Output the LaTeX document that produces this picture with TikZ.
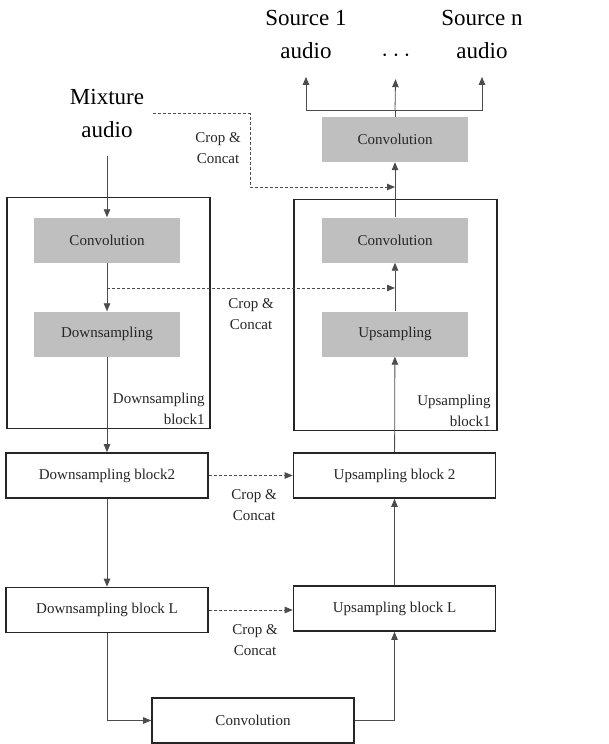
\documentclass[tikz,border=0pt]{standalone}
\usepackage{fontspec}
\setmainfont{Liberation Serif}
\usetikzlibrary{arrows.meta}
\tikzset{>={Triangle[width=6.5pt,length=8pt]}}

\begin{document}
\begin{tikzpicture}[x=1pt, y=-1pt,
  io/.style={align=center, inner xsep=9pt, inner ysep=18pt, font=\fontsize{23}{33}\selectfont},
  graybox/.style={fill=\GRAY, minimum width=146pt, minimum height=45pt, font=\fontsize{15}{21}\selectfont, text=black!85},
  stage/.style={draw=black!85, line width=1.7pt, minimum width=203pt, minimum height=231pt},
  block/.style={draw=black!85, line width=1.6pt, fill=white, minimum width=202pt, minimum height=45pt, font=\fontsize{15}{21}\selectfont, text=black!85},
  blklabel/.style={align=right, inner sep=0pt, font=\fontsize{15}{21}\selectfont, text=black!85},
  croplabel/.style={align=center, inner sep=0pt, font=\fontsize{15}{21}\selectfont, text=black!85},
  wire/.style={draw=black!70, line width=0.8pt},
  link/.style={wire, ->},
  cropline/.style={link, dash pattern=on 3pt off 2pt}]

\newcommand\GRAY{black!25}

\useasboundingbox (0,0) rectangle (608,744);

%% outputs
\node[io] (src1) at (306,34.5) {Source 1\\audio};
\node[io] (srcn) at (482,34.5) {Source n\\audio};
\node[io, anchor=base] (dots) at (396,61) {$\cdots$};
\node[graybox] (convo) at (395,139.5) {Convolution};

%% input
\node[io] (mix) at (107,113.5) {Mixture\\audio};

%% block 1
\node[stage] (blkd) at (108.5,313) {};
\node[stage] (blku) at (395.5,315) {};
\node[graybox] (convd) at (107,240) {Convolution};
\node[graybox] (downs) at (107,334) {Downsampling};
\node[graybox] (convu) at (395,240) {Convolution};
\node[graybox] (ups) at (395,334) {Upsampling};
\node[blklabel, anchor=south east] (lbld) at ([xshift=-6pt,yshift=5pt]blkd.south east) {Downsampling\\block1};
\node[blklabel, anchor=south east] (lblu) at ([xshift=-7pt,yshift=5pt]blku.south east) {Upsampling\\block1};

%% blocks 2 .. L
\node[block] (dn2) at (107,475.5) {Downsampling block2};
\node[block] (up2) at (394.5,475.5) {Upsampling block 2};
\node[block] (dnL) at (107,610) {Downsampling block L};
\node[block] (upL) at (394.5,608.5) {Upsampling block L};
\node[block] (convb) at (253,720.5) {Convolution};

%% crop and concat
\node[croplabel] (crop0) at (218,148) {Crop \&\\Concat};
\node[croplabel] (crop1) at (251,314) {Crop \&\\Concat};
\node[croplabel] (crop2) at (254,505) {Crop \&\\Concat};
\node[croplabel] (cropL) at (255,640) {Crop \&\\Concat};

%% connectors
\coordinate (split) at (395,110);
\draw[wire] (convo) -- (split);
\draw[link] (split) -- (dots);
\draw[link] (split) -| (src1);
\draw[link] (split) -| (srcn);

\draw[link] (mix) -- (convd);
\draw[link] (convd) -- (downs);
\draw[link] (downs) -- (dn2);
\draw[link] (dn2) -- (dnL);
\draw[link] (dnL) |- (convb);
\draw[link] (convb) -| (upL);
\draw[link] (upL) -- (up2);
\draw[link] (up2) -- (ups);
\draw[link] (ups) -- (convu);
\draw[link] (convu) -- (convo);

\coordinate (tap0) at (395,187);
\coordinate (tap1) at (107,288);
\draw[cropline] (mix.east) -- ++(97,0) |- (tap0);
\draw[cropline] (tap1) -- (tap1 -| convu);
\draw[cropline] (dn2) -- (up2);
\draw[cropline] (dnL.east) -- (dnL.east -| upL.west);
\end{tikzpicture}
\end{document}
